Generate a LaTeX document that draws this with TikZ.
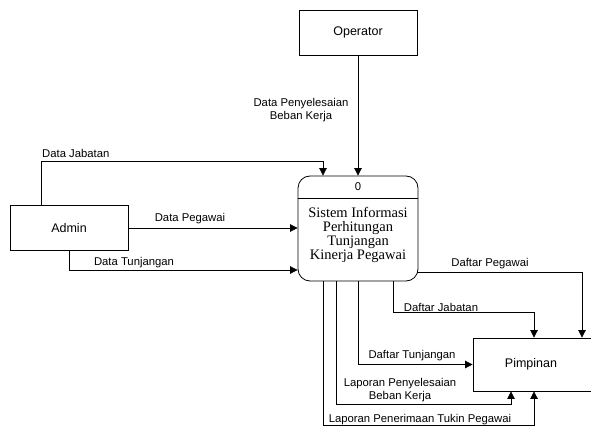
\documentclass[tikz,border=0pt]{standalone}
\usepackage{fontspec}
\setmainfont{Liberation Serif}
\setsansfont{Liberation Sans}
\usetikzlibrary{arrows.meta}
\begin{document}
\begin{tikzpicture}[x=1pt,y=-1pt,
  ent/.style={draw,line width=0.8pt,minimum width=118pt,minimum height=45pt,inner sep=0pt,font=\sffamily\fontsize{12.5}{14}\selectfont},
  procbox/.style={draw,line width=0.8pt,rounded corners=12pt,minimum width=120pt,minimum height=105pt,inner sep=0pt},
  flow/.style={line width=0.7pt,-{Triangle[length=7.5pt,width=7.5pt]}},
  lbl/.style={font=\sffamily\fontsize{11.3}{13.5}\selectfont,inner sep=0pt,align=center},
]
\useasboundingbox[fill=white] (0,0) rectangle (591,427);
\node[ent] (op) at (358,32.5) {Operator};
\node[ent] (ad) at (69,228) {Admin};
\node[ent, minimum width=126pt, minimum height=53pt] (pim) at (536,364.5) {Pimpinan\hspace*{10pt}};
\node[procbox] (pr) at (358,228.5) {};
\draw[line width=0.8pt] ([yshift=30.5pt]pr.west) -- ([yshift=30.5pt]pr.east);
\node[lbl] (num) at (358,187) {0};
\node[font=\rmfamily\fontsize{14.5}{14}\selectfont, align=center, inner sep=0pt] (ptxt) at (358,235) {Sistem Informasi\\Perhitungan\\Tunjangan\\Kinerja Pegawai};

\draw[flow] ([xshift=-28pt]ad.north) |- ([xshift=-35pt,yshift=14pt]pr.north) -- ([xshift=-35pt]pr.north);
\draw[flow] (op) -- (pr);
\draw[flow] (ad.east) -- (ad.east -| pr.west);
\draw[flow] (ad.south) |- ([yshift=-41.5pt]pr.west);
\draw[flow] ([xshift=-1pt,yshift=-43.5pt]pr.east) -| ([xshift=46pt]pim.north);
\draw[flow] ([xshift=35pt]pr.south) |- ([xshift=-2pt,yshift=25pt]pim.north) -- ([xshift=-2pt]pim.north);
\draw[flow] (pr.south) |- (pim.west);
\draw[flow] ([xshift=-22pt]pr.south) |- ([xshift=-25pt,yshift=-13pt]pim.south) -- ([xshift=-25pt]pim.south);
\draw[flow] ([xshift=-35pt]pr.south) |- ([xshift=-2pt,yshift=-34pt]pim.south) -- ([xshift=-2pt]pim.south);

\node[lbl] (l1) at (301,110) {Data Penyelesaian\\Beban Kerja};
\node[lbl, anchor=west] (l2) at (42,153) {Data Jabatan};
\node[lbl] (l3) at (190,219) {Data Pegawai};
\node[lbl] (l4) at (134,263) {Data Tunjangan};
\node[lbl] (l5) at (490,264) {Daftar Pegawai};
\node[lbl] (l6) at (441,307) {Daftar Jabatan};
\node[lbl] (l7) at (412,356) {Daftar Tunjangan};
\node[lbl] (l8) at (400,390) {Laporan Penyelesaian\\Beban Kerja};
\node[lbl] (l9) at (420,420) {Laporan Penerimaan Tukin Pegawai};
\end{tikzpicture}
\end{document}
